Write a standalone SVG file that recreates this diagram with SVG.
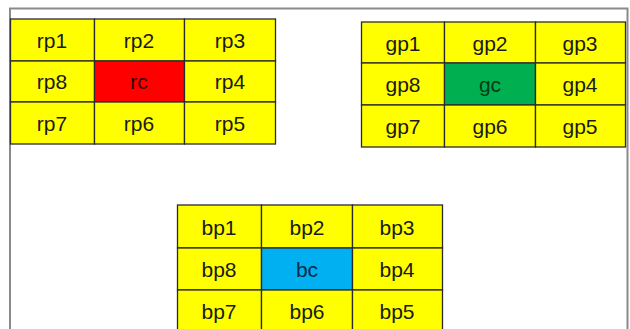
<svg xmlns="http://www.w3.org/2000/svg" width="630" height="329" viewBox="0 0 630 329">
<style>
.c{fill:#ffff00;stroke:#2b2b2b;stroke-width:1.3}
.r{fill:#ff0000}
.g{fill:#00b050}
.b{fill:#00b0f0}
text{font-family:"Liberation Sans",Arial,sans-serif;font-size:21px;fill:#1a1a1a;text-anchor:middle}
.frame{fill:none;stroke:#8a8a8a;stroke-width:2}
</style>
<rect width="630" height="329" fill="#ffffff"/>
<path class="frame" d="M10,340 V8.5 H627.5 V340"/>
<g id="red-grid">
<rect class="c" x="10.5" y="19" width="84" height="42"/><text x="52" y="48">rp1</text>
<rect class="c" x="94.5" y="19" width="90" height="42"/><text x="139" y="48">rp2</text>
<rect class="c" x="184.5" y="19" width="91" height="42"/><text x="230" y="48">rp3</text>
<rect class="c" x="10.5" y="61" width="84" height="41"/><text x="52" y="89">rp8</text>
<rect class="c r" x="94.5" y="61" width="90" height="41"/><text x="139" y="89" style="fill:#3a0000">rc</text>
<rect class="c" x="184.5" y="61" width="91" height="41"/><text x="230" y="89">rp4</text>
<rect class="c" x="10.5" y="102" width="84" height="42"/><text x="52" y="131">rp7</text>
<rect class="c" x="94.5" y="102" width="90" height="42"/><text x="139" y="131">rp6</text>
<rect class="c" x="184.5" y="102" width="91" height="42"/><text x="230" y="131">rp5</text>
</g>
<g id="green-grid">
<rect class="c" x="361.5" y="22" width="83" height="41"/><text x="403" y="51">gp1</text>
<rect class="c" x="444.5" y="22" width="91" height="41"/><text x="490" y="51">gp2</text>
<rect class="c" x="535.5" y="22" width="90" height="41"/><text x="580" y="51">gp3</text>
<rect class="c" x="361.5" y="63" width="83" height="42"/><text x="403" y="92">gp8</text>
<rect class="c g" x="444.5" y="63" width="91" height="42"/><text x="490" y="92" style="fill:#0a3a1a">gc</text>
<rect class="c" x="535.5" y="63" width="90" height="42"/><text x="580" y="92">gp4</text>
<rect class="c" x="361.5" y="105" width="83" height="42"/><text x="403" y="134">gp7</text>
<rect class="c" x="444.5" y="105" width="91" height="42"/><text x="490" y="134">gp6</text>
<rect class="c" x="535.5" y="105" width="90" height="42"/><text x="580" y="134">gp5</text>
</g>
<g id="blue-grid">
<rect class="c" x="177.5" y="205" width="84" height="43"/><text x="219" y="235">bp1</text>
<rect class="c" x="261.5" y="205" width="91" height="43"/><text x="307" y="235">bp2</text>
<rect class="c" x="352.5" y="205" width="90" height="43"/><text x="397" y="235">bp3</text>
<rect class="c" x="177.5" y="248" width="84" height="42"/><text x="219" y="277">bp8</text>
<rect class="c b" x="261.5" y="248" width="91" height="42"/><text x="307" y="277" style="fill:#0a2a4a">bc</text>
<rect class="c" x="352.5" y="248" width="90" height="42"/><text x="397" y="277">bp4</text>
<rect class="c" x="177.5" y="290" width="84" height="43"/><text x="219" y="319">bp7</text>
<rect class="c" x="261.5" y="290" width="91" height="43"/><text x="307" y="319">bp6</text>
<rect class="c" x="352.5" y="290" width="90" height="43"/><text x="397" y="319">bp5</text>
</g>
</svg>
